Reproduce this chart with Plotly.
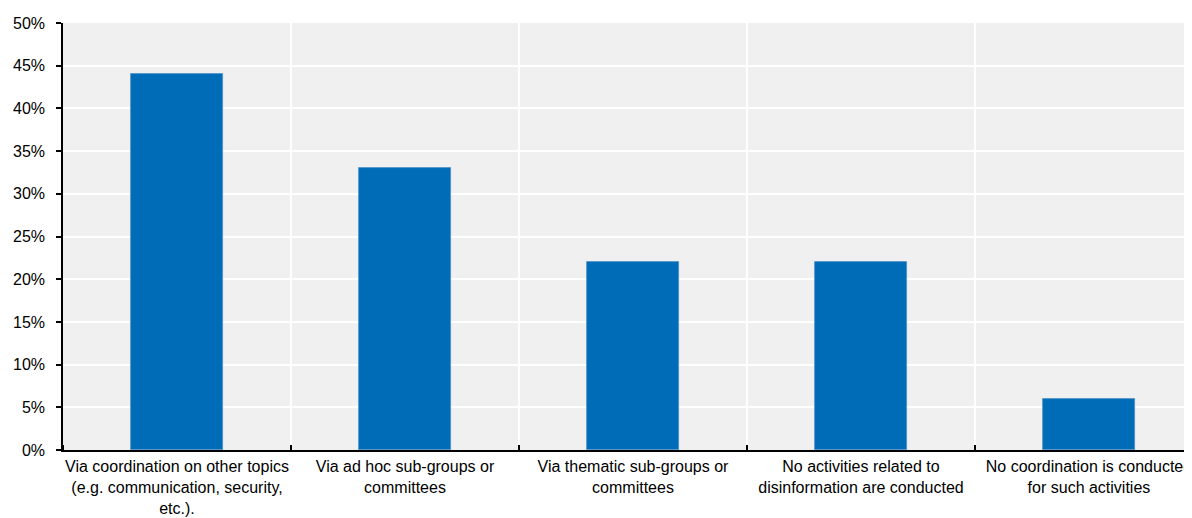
import plotly.graph_objects as go

categories = [
    "Via coordination on other topics<br>(e.g. communication, security,<br>etc.).",
    "Via ad hoc sub-groups or<br>committees",
    "Via thematic sub-groups or<br>committees",
    "No activities related to<br>disinformation are conducted",
    "No coordination is conducted<br>for such activities",
]
values = [44, 33, 22, 22, 6]
positions = list(range(len(categories)))

fig = go.Figure()
fig.add_trace(go.Bar(
    x=positions, y=values, width=0.4,
    marker=dict(color="#006BB6", line=dict(color="#4A90C8", width=0.8)),
    hoverinfo="skip",
))

font = dict(family="Liberation Sans, Arial, sans-serif", size=16, color="#000000")

fig.update_layout(
    width=1192, height=518,
    margin=dict(l=55, r=0, t=15, b=76, autoexpand=False),
    paper_bgcolor="white", plot_bgcolor="#F0F0F0",
    showlegend=False, bargap=0,
    font=font,
)
fig.update_xaxes(
    range=[-0.5, 4.487],
    tickvals=positions, ticktext=categories,
    ticks="", showgrid=False, zeroline=False,
    showline=True, linecolor="black", linewidth=1.5,
    tickfont=font, automargin=False, ticklabeloverflow="allow",
    ticklabelstandoff=1,
    minor=dict(tick0=0.5, dtick=1, ticks="inside", ticklen=5, tickcolor="black", tickwidth=1.5,
               showgrid=True, gridcolor="white", gridwidth=2),
)
fig.update_yaxes(
    range=[0, 50], dtick=5, ticksuffix="%",
    ticks="outside", ticklen=5, tickcolor="black", tickwidth=1.5,
    showline=True, linecolor="black", linewidth=1.5,
    showgrid=True, gridcolor="white", gridwidth=1.5, zeroline=False,
    tickfont=font, automargin=False, ticklabelstandoff=8,
)

fig.write_html("out.html")
